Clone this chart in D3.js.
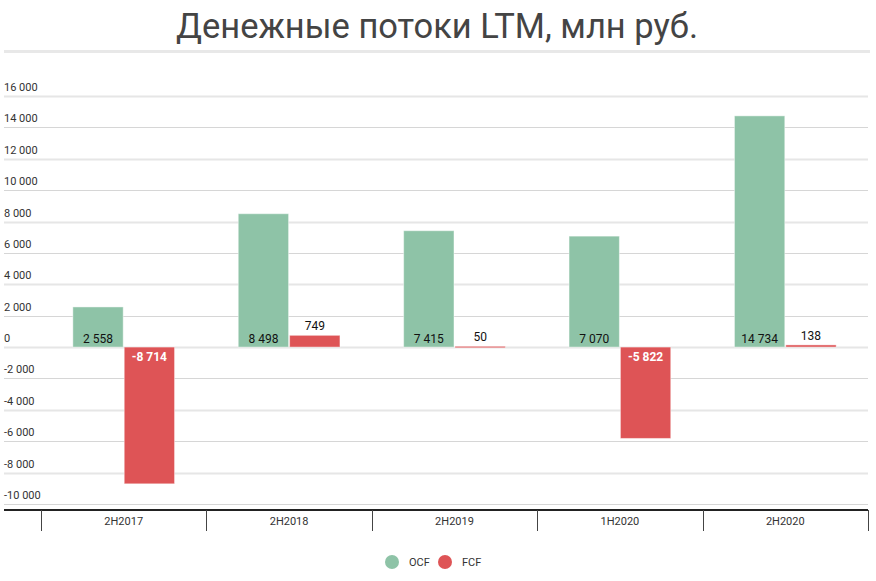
<!DOCTYPE html>
<html>
<head>
<meta charset="utf-8">
<script src="https://cdn.jsdelivr.net/npm/d3@7"></script>
<style>
  body { margin: 0; background: #fff; font-family: Roboto, "Noto Sans", sans-serif; }
</style>
</head>
<body>
<div id="chart"></div>
<script>
// data
const categories = ["2H2017", "2H2018", "2H2019", "1H2020", "2H2020"];
const seriesNames = ["OCF", "FCF"];
const ocfValues = [2558, 8498, 7415, 7070, 14734];
const fcfValues = [-8714, 749, 50, -5822, 138];
const yTicks = [-10000, -8000, -6000, -4000, -2000, 0, 2000, 4000, 6000, 8000, 10000, 12000, 14000, 16000];

const width = 876,
  height = 581,
  margin = { top: 96, bottom: 77, left: 41, right: 8 };

const colors = { OCF: "#8ec3a7", FCF: "#de5456" };

// number format with a space between thousands
const fmt = d3.formatLocale({ decimal: ",", thousands: " ", grouping: [3], currency: ["", ""], minus: "-" }).format(",d");

const rows = categories.map((c, i) => ({ cat: c, OCF: ocfValues[i], FCF: fcfValues[i] }));

const svg = d3.select("#chart")
  .append("svg")
  .attr("width", width)
  .attr("height", height);

// title
svg.append("text")
  .attr("x", 437)
  .attr("y", 38)
  .attr("text-anchor", "middle")
  .attr("font-size", 34.5)
  .attr("fill", "#444")
  .text("Денежные потоки LTM, млн руб.");

svg.append("rect")
  .attr("x", 4).attr("y", 50)
  .attr("width", 866).attr("height", 3)
  .attr("fill", "#e8e8e8");

// scales
const yScale = d3.scaleLinear()
  .domain([-10000, 16000])
  .range([504, 96]);

const xScale = d3.scaleBand()
  .domain(categories)
  .range([margin.left, width - margin.right]);

const xInner = d3.scaleBand()
  .domain(seriesNames)
  .range([0, xScale.bandwidth()])
  .paddingOuter(0.62)
  .paddingInner(0.02);

// gridlines + tick labels
const grid = svg.append("g");
grid.selectAll("line")
  .data(yTicks)
  .join("line")
  .attr("x1", 4)
  .attr("x2", 868)
  .attr("y1", d => Math.round(yScale(d)) + 0.5)
  .attr("y2", d => Math.round(yScale(d)) + 0.5)
  .attr("stroke", d => (d % 4000 === 0 ? "#e6e6e6" : "#d6d6d6"))
  .attr("stroke-width", d => (d % 4000 === 0 ? 2 : 1));

grid.selectAll("text")
  .data(yTicks)
  .join("text")
  .attr("x", 4)
  .attr("y", d => yScale(d) - 5)
  .attr("font-size", 11)
  .attr("fill", "#333")
  .text(d => fmt(d));

// bars
const groups = svg.selectAll(".group")
  .data(rows)
  .join("g")
  .attr("class", "group")
  .attr("transform", d => `translate(${xScale(d.cat)},0)`);

groups.selectAll("rect")
  .data(d => seriesNames.map(k => ({ key: k, value: d[k] })))
  .join("rect")
  .attr("x", d => xInner(d.key))
  .attr("width", xInner.bandwidth())
  .attr("y", d => yScale(Math.max(0, d.value)))
  .attr("height", d => Math.max(1.5, Math.abs(yScale(d.value) - yScale(0))))
  .attr("fill", d => colors[d.key])
  .attr("stroke", "rgba(255,255,255,0.45)")
  .attr("stroke-width", 1);

// value labels
groups.selectAll(".val")
  .data(d => seriesNames.map(k => ({ key: k, value: d[k] })))
  .join("text")
  .attr("class", "val")
  .attr("x", d => xInner(d.key) + xInner.bandwidth() / 2)
  .attr("y", d => {
    if (d.key === "OCF") return yScale(0) - 4;
    if (d.value < 0) return yScale(0) + 14;
    return yScale(d.value) - 5;
  })
  .attr("text-anchor", "middle")
  .attr("font-size", 12)
  .attr("font-weight", d => (d.value < 0 ? "bold" : "normal"))
  .attr("fill", d => (d.value < 0 ? "#fff" : "#111"))
  .text(d => fmt(d.value));

// x axis
const axisY = 510;
svg.append("line")
  .attr("x1", 4).attr("x2", 868)
  .attr("y1", axisY).attr("y2", axisY)
  .attr("stroke", "#222")
  .attr("stroke-width", 2);

const dividers = categories.map(c => xScale(c)).concat([xScale.range()[1]]);
svg.selectAll(".divider")
  .data(dividers)
  .join("line")
  .attr("class", "divider")
  .attr("x1", d => Math.round(d) + 0.5)
  .attr("x2", d => Math.round(d) + 0.5)
  .attr("y1", axisY)
  .attr("y2", 531)
  .attr("stroke", "#444")
  .attr("stroke-width", 1);

svg.selectAll(".cat")
  .data(categories)
  .join("text")
  .attr("class", "cat")
  .attr("x", d => xScale(d) + xScale.bandwidth() / 2)
  .attr("y", 525)
  .attr("text-anchor", "middle")
  .attr("font-size", 11)
  .attr("fill", "#333")
  .text(d => d);

// legend
const legend = svg.append("g").attr("transform", "translate(392,562)");
const legendX = { OCF: 0, FCF: 53 };
legend.selectAll("circle")
  .data(seriesNames)
  .join("circle")
  .attr("cx", d => legendX[d])
  .attr("cy", 0)
  .attr("r", 7)
  .attr("fill", d => colors[d]);
legend.selectAll("text")
  .data(seriesNames)
  .join("text")
  .attr("x", d => legendX[d] + 17)
  .attr("y", 4)
  .attr("font-size", 11)
  .attr("fill", "#333")
  .text(d => d);
</script>
</body>
</html>
